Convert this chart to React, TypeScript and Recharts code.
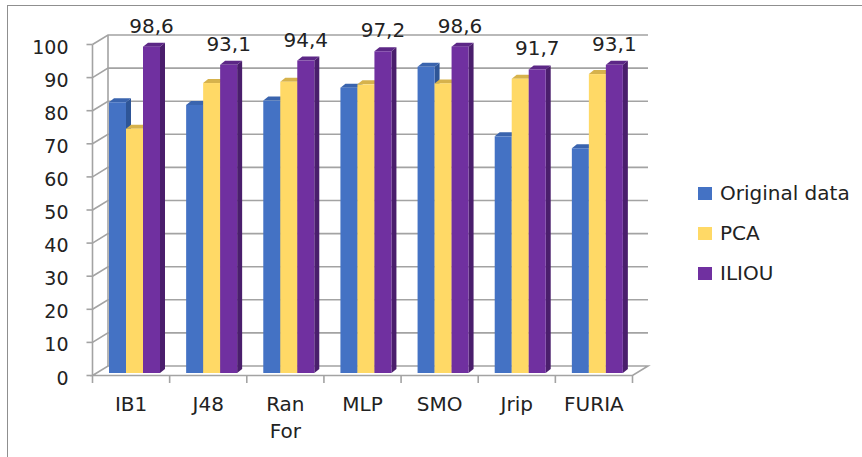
import { Bar, BarChart, CartesianGrid, LabelList, XAxis, YAxis } from 'recharts';

// Classifier accuracy (%)
const CATEGORIES = ['IB1', 'J48', 'Ran For', 'MLP', 'SMO', 'Jrip', 'FURIA'];
const ORIGINAL = [81.8, 81.0, 82.3, 86.2, 92.5, 71.5, 67.9];
const PCA = [73.8, 87.6, 88.0, 87.2, 87.5, 88.9, 90.3];
const ILIOU = [98.6, 93.1, 94.4, 97.2, 98.6, 91.7, 93.1];
const Y_TICKS = [0, 10, 20, 30, 40, 50, 60, 70, 80, 90, 100];

const SERIES = [
  { key: 'original', name: 'Original data', front: '#4472C4', top: '#3A64AE', side: '#2E5597' },
  { key: 'pca', name: 'PCA', front: '#FFD966', top: '#D6B24C', side: '#D9B650' },
  { key: 'iliou', name: 'ILIOU', front: '#7030A0', top: '#5C2786', side: '#4A1E6C' },
];

const data = CATEGORIES.map((name, i) => ({
  name,
  original: ORIGINAL[i],
  pca: PCA[i],
  iliou: ILIOU[i],
}));

const CHART_W = 862;
const CHART_H = 457;
const MARGIN = { top: 35, right: 214, bottom: 31, left: 48 };
const Y_AXIS_W = 60;
const X_AXIS_H = 60;
const PLOT_LEFT = MARGIN.left + Y_AXIS_W;
const PLOT_RIGHT = CHART_W - MARGIN.right;
const PLOT_BOTTOM = CHART_H - MARGIN.bottom - X_AXIS_H;
const BAND = (PLOT_RIGHT - PLOT_LEFT) / CATEGORIES.length;

// fake 3D: offset of the front plane and of the bars from the back wall
const WALL_DX = -15.5;
const WALL_DY = 9.5;
const BAR_DX = -12;
const BAR_DY = 7;
const DEPTH_DX = 5;
const DEPTH_DY = -4;

const FONT = '"DejaVu Sans", sans-serif';
const TEXT_COLOR = '#222';
const GRID_COLOR = '#a3a3a3';

function GridLine(props: any) {
  const { x1, y1, x2, y2 } = props;
  const isFloor = Math.abs(y1 - PLOT_BOTTOM) < 0.5;
  const d = isFloor
    ? `M${x1 + WALL_DX},${y1 + WALL_DY} L${x1},${y1} L${x2},${y2} L${x2 + WALL_DX},${y2 + WALL_DY} Z`
    : `M${x1 + WALL_DX},${y1 + WALL_DY} L${x1},${y1} L${x2},${y2}`;
  return <path d={d} fill="none" stroke={GRID_COLOR} strokeWidth={1.6} />;
}

function LeftWall(props: any) {
  const { x1, y1, y2 } = props;
  return (
    <g>
      <line x1={x1} x2={x1} y1={y1} y2={y2} stroke={GRID_COLOR} strokeWidth={1.6} />
      <line
        x1={x1 + WALL_DX}
        x2={x1 + WALL_DX}
        y1={y1 + WALL_DY}
        y2={y2 + WALL_DY}
        stroke={GRID_COLOR}
        strokeWidth={1.6}
      />
    </g>
  );
}

function YTick({ y, payload }: any) {
  const fx = PLOT_LEFT + WALL_DX;
  const fy = y + WALL_DY;
  return (
    <g>
      <line x1={fx - 6} x2={fx} y1={fy} y2={fy} stroke={GRID_COLOR} strokeWidth={1.6} />
      <text
        x={fx - 24}
        y={fy + 2}
        textAnchor="end"
        dominantBaseline="central"
        fontFamily={FONT}
        fontSize={19}
        fill={TEXT_COLOR}
      >
        {payload.value}
      </text>
    </g>
  );
}

function XTick({ x, payload, index }: any) {
  const fx = x + WALL_DX;
  const fy = PLOT_BOTTOM + WALL_DY;
  const left = fx - BAND / 2;
  const lines = String(payload.value).split(' ');
  return (
    <g>
      <line x1={left} x2={left} y1={fy} y2={fy + 7.5} stroke={GRID_COLOR} strokeWidth={1.6} />
      {index === CATEGORIES.length - 1 && (
        <line x1={left + BAND} x2={left + BAND} y1={fy} y2={fy + 7.5} stroke={GRID_COLOR} strokeWidth={1.6} />
      )}
      <text
        x={fx}
        y={fy + 28}
        textAnchor="middle"
        dominantBaseline="central"
        fontFamily={FONT}
        fontSize={20}
        fill={TEXT_COLOR}
      >
        {lines.map((line, i) => (
          <tspan key={line} x={fx} dy={i === 0 ? 0 : 27}>
            {line}
          </tspan>
        ))}
      </text>
    </g>
  );
}

function Bar3D(props: any) {
  const { x, y, width, height, colors } = props;
  if (width == null || height == null) return null;
  const fx = x + BAR_DX;
  const fy = y + BAR_DY;
  const top = `${fx},${fy} ${fx + DEPTH_DX},${fy + DEPTH_DY} ${fx + width + DEPTH_DX},${fy + DEPTH_DY} ${fx + width},${fy}`;
  const side = `${fx + width},${fy} ${fx + width + DEPTH_DX},${fy + DEPTH_DY} ${fx + width + DEPTH_DX},${fy + height + DEPTH_DY} ${fx + width},${fy + height}`;
  return (
    <g>
      <polygon points={side} fill={colors.side} />
      <polygon points={top} fill={colors.top} />
      <rect x={fx} y={fy} width={width} height={height} fill={colors.front} />
    </g>
  );
}

function ValueLabel(props: any) {
  const { x, y, width, value } = props;
  return (
    <text
      x={x + BAR_DX + width / 2}
      y={y + BAR_DY - 21}
      textAnchor="middle"
      dominantBaseline="central"
      fontFamily={FONT}
      fontSize={20}
      fill={TEXT_COLOR}
    >
      {String(value).replace('.', ',')}
    </text>
  );
}

function ChartLegend() {
  return (
    <div style={{ position: 'absolute', left: 698, top: 173, fontFamily: FONT, fontSize: 20, color: TEXT_COLOR }}>
      {SERIES.map((s) => (
        <div key={s.key} style={{ display: 'flex', alignItems: 'center', height: 40 }}>
          <span style={{ display: 'inline-block', width: 14, height: 13, background: s.front, marginRight: 8 }} />
          <span>{s.name}</span>
        </div>
      ))}
    </div>
  );
}

export default function App() {
  return (
    <div
      style={{
        position: 'absolute',
        left: 0,
        top: 0,
        width: CHART_W,
        height: CHART_H,
        overflow: 'hidden',
        background: '#fff',
      }}
    >
      {/* chart frame, only its top and left edges fall inside the picture */}
      <div
        style={{
          position: 'absolute',
          left: 7,
          top: 5,
          width: 920,
          height: 520,
          border: '1.5px solid #8f8f8f',
        }}
      />
      <BarChart width={CHART_W} height={CHART_H} data={data} margin={MARGIN} barSize={17} barGap={0}>
        <CartesianGrid
          horizontal={GridLine}
          vertical={LeftWall}
          verticalPoints={[PLOT_LEFT]}
        />
        <XAxis
          dataKey="name"
          axisLine={false}
          tickLine={false}
          interval={0}
          height={X_AXIS_H}
          tick={<XTick />}
        />
        <YAxis
          domain={[0, 100]}
          ticks={Y_TICKS}
          axisLine={false}
          tickLine={false}
          width={Y_AXIS_W}
          tick={<YTick />}
        />
        {SERIES.map((s) => (
          <Bar
            key={s.key}
            dataKey={s.key}
            name={s.name}
            fill={s.front}
            isAnimationActive={false}
            shape={(p: any) => <Bar3D {...p} colors={s} />}
          >
            {s.key === 'iliou' && <LabelList dataKey="iliou" content={ValueLabel} />}
          </Bar>
        ))}
      </BarChart>
      <ChartLegend />
    </div>
  );
}
